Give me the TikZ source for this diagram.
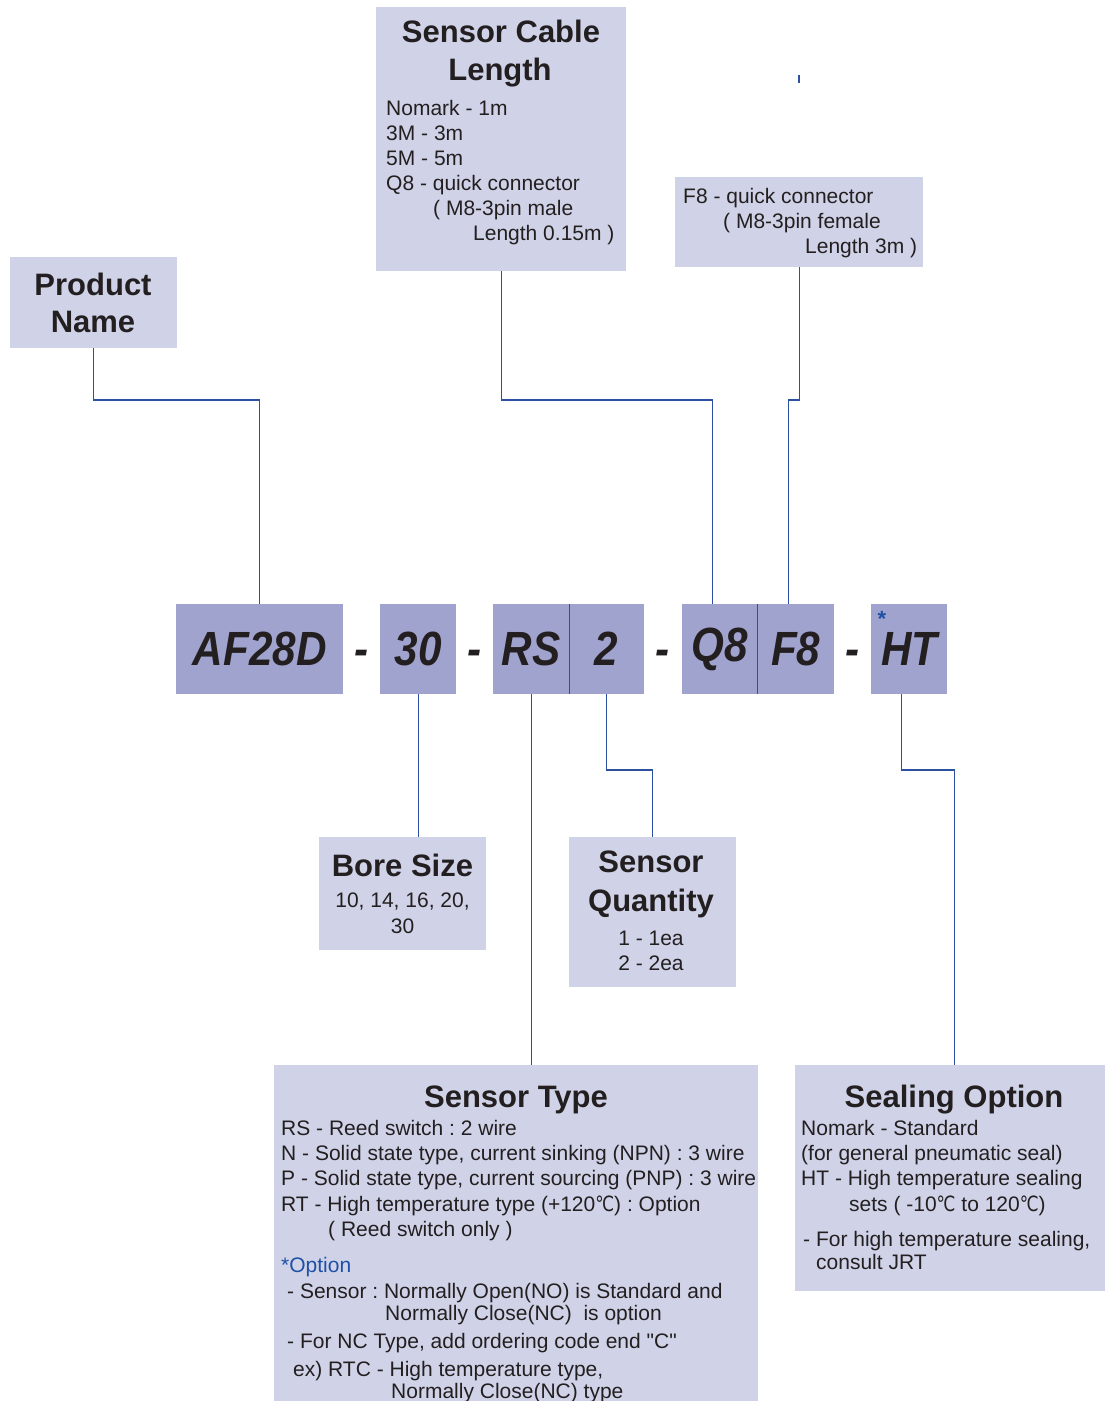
\documentclass[tikz,border=0pt]{standalone}
\usepackage{fontspec}
\setmainfont{Liberation Sans}[Ligatures=TeXOff]
\newfontfamily\codefont[FakeStretch=0.88]{Liberation Sans}
\newfontfamily\djv{DejaVu Sans}
\newcommand{\degc}{\scalebox{0.8}[1]{\djv ℃}}
\frenchspacing
\definecolor{lightbox}{RGB}{208,211,232}
\definecolor{codebox}{RGB}{160,163,206}
\definecolor{linkblue}{RGB}{45,80,160}
\definecolor{ink}{RGB}{35,31,32}
\definecolor{optblue}{RGB}{30,80,165}
\tikzset{
  lbox/.style={rectangle, fill=lightbox, draw=none, inner sep=0pt, anchor=north west},
  cbox/.style={rectangle, fill=codebox, draw=none, inner sep=0pt, anchor=north west, minimum height=90pt},
  ttl/.style={anchor=base, inner sep=0pt, text=ink, font=\fontsize{31}{38}\selectfont\bfseries},
  bodyc/.style={anchor=base, inner sep=0pt, text=ink, font=\fontsize{21}{25}\selectfont\frenchspacing},
  bodyl/.style={anchor=base west, inner sep=0pt, text=ink, font=\fontsize{21}{25}\selectfont\frenchspacing},
  codetxt/.style={anchor=center, inner sep=0pt, text=ink, font=\fontsize{48}{50}\selectfont\codefont\bfseries\itshape},
  conn/.style={draw=linkblue, line width=1.2pt},
  divider/.style={draw=linkblue, line width=1pt}
}
\begin{document}
\begin{tikzpicture}[x=1pt,y=-1pt]
\useasboundingbox[fill=white] (0,0) rectangle (1105,1401);

% ---- description boxes ----
\node[lbox, minimum width=167pt, minimum height=91pt] (pn) at (10,257) {};
\node[lbox, minimum width=250pt, minimum height=264pt] (scl) at (376,7) {};
\node[lbox, minimum width=248pt, minimum height=90pt] (f8b) at (675,177) {};
\node[lbox, minimum width=167pt, minimum height=113pt] (bore) at (319,837) {};
\node[lbox, minimum width=167pt, minimum height=150pt] (sq) at (569,837) {};
\node[lbox, minimum width=484pt, minimum height=336pt] (st) at (274,1065) {};
\node[lbox, minimum width=310pt, minimum height=226pt] (so) at (795,1065) {};

% ---- code boxes ----
\node[cbox, minimum width=167pt] (af) at (176,604) {};
\node[cbox, minimum width=76pt] (c30) at (380,604) {};
\node[cbox, minimum width=76pt] (rs) at (493,604) {};
\node[cbox, minimum width=75pt] (c2) at (569,604) {};
\node[cbox, minimum width=75pt] (q8) at (682,604) {};
\node[cbox, minimum width=77pt] (f8) at (757,604) {};
\node[cbox, minimum width=76pt] (ht) at (871,604) {};
\draw[divider] (rs.north east) -- (rs.south east);
\draw[divider] (q8.north east) -- (q8.south east);

% code texts
\node[codetxt] (taf) at (af.center) {AF28D};
\node[codetxt] (t30) at (c30.center) {30};
\node[codetxt] (trs) at (rs.center) {RS};
\node[codetxt] (t2) at (c2.center) {2};
\node[codetxt] (tq8) at (q8.center) {Q8};
\node[codetxt] (tf8) at (f8.center) {F8};
\node[codetxt] (tht) at (ht.center) {HT};
\node[codetxt] (d1) at (361.5,658) {-};
\node[codetxt] (d2) at (474.5,658) {-};
\node[codetxt] (d3) at (663,658) {-};
\node[codetxt] (d4) at (852.5,658) {-};
\node[anchor=center, inner sep=0pt, text=optblue, font=\fontsize{22}{22}\selectfont\bfseries] (ast) at (882,619) {*};

% ---- connectors ----
\draw[conn] (pn.south) -- (pn.south |- 0,400) -| (af.north);
\draw[conn] (scl.south) -- (scl.south |- 0,400) -| ([xshift=-7.5pt]q8.north);
\draw[conn] (f8b.south) -- (f8b.south |- 0,400) -| ([xshift=-7.5pt]f8.north);
\draw[conn] (c30.south) -- (c30.south |- bore.north);
\draw[conn] (rs.south) -- (rs.south |- st.north);
\draw[conn] (c2.south) -- (c2.south |- 0,770) -| (sq.north);
\draw[conn] ([xshift=-8pt]ht.south) -- ([xshift=-8pt]ht.south |- 0,770) -| ([xshift=4pt]so.north);
\coordinate (m1) at (799,75);
\coordinate (m2) at (799,83);
\draw[conn] (m1) -- (m2);

% ---- Product Name ----
\node[ttl] (pn1) at (93,295) {Product};
\node[ttl] (pn2) at (93,332) {Name};

% ---- Sensor Cable Length ----
\node[ttl] (sc1) at (501,42) {Sensor Cable};
\node[ttl] (sc2) at (500,80) {Length};
\node[bodyl] (sc3) at (386,115) {Nomark - 1m};
\node[bodyl] (sc4) at (386,140) {3M - 3m};
\node[bodyl] (sc5) at (386,165) {5M - 5m};
\node[bodyl] (sc6) at (386,190) {Q8 - quick connector};
\node[bodyl] (sc7) at (433,215) {( M8-3pin male};
\node[bodyl] (sc8) at (473,240) {Length 0.15m )};

% ---- F8 box ----
\node[bodyl] (fb1) at (683,203) {F8 - quick connector};
\node[bodyl] (fb2) at (723,228) {( M8-3pin female};
\node[bodyl] (fb3) at (805,253) {Length 3m )};

% ---- Bore Size ----
\node[ttl] (bs1) at (402.5,876) {Bore Size};
\node[bodyc] (bs2) at (402.5,907) {10, 14, 16, 20,};
\node[bodyc] (bs3) at (402.5,933) {30};

% ---- Sensor Quantity ----
\node[ttl] (sq1) at (651,872) {Sensor};
\node[ttl] (sq2) at (651,911) {Quantity};
\node[bodyc] (sq3) at (651,945) {1 - 1ea};
\node[bodyc] (sq4) at (651,970) {2 - 2ea};

% ---- Sensor Type ----
\node[ttl] (st0) at (516,1107) {Sensor Type};
\node[bodyl] (st1) at (281,1135) {RS - Reed switch : 2 wire};
\node[bodyl] (st2) at (281,1160) {N - Solid state type, current sinking (NPN) : 3 wire};
\node[bodyl] (st3) at (281,1185) {P - Solid state type, current sourcing (PNP) : 3 wire};
\node[bodyl] (st4) at (281,1211) {RT - High temperature type (+120\degc) : Option};
\node[bodyl] (st5) at (328,1236) {( Reed switch only )};
\node[bodyl, text=optblue] (st6) at (281,1272) {*Option};
\node[bodyl] (st7) at (287,1298) {- Sensor : Normally Open(NO) is Standard and};
\node[bodyl] (st8) at (385,1320) {Normally Close(NC)\ \ is option};
\node[bodyl] (st9) at (287,1348) {- For NC Type, add ordering code end "C"};
\node[bodyl] (st10) at (293,1376) {ex) RTC - High temperature type,};
\node[bodyl] (st11) at (391,1398) {Normally Close(NC) type};

% ---- Sealing Option ----
\node[ttl] (so0) at (954,1107) {Sealing Option};
\node[bodyl] (so1) at (801,1135) {Nomark - Standard};
\node[bodyl] (so2) at (801,1160) {(for general pneumatic seal)};
\node[bodyl] (so3) at (801,1185) {HT - High temperature sealing};
\node[bodyl] (so4) at (849,1211) {sets ( -10\degc\ to 120\degc)};
\node[bodyl] (so5) at (803,1246) {- For high temperature sealing,};
\node[bodyl] (so6) at (816,1269) {consult JRT};
\end{tikzpicture}
\end{document}
